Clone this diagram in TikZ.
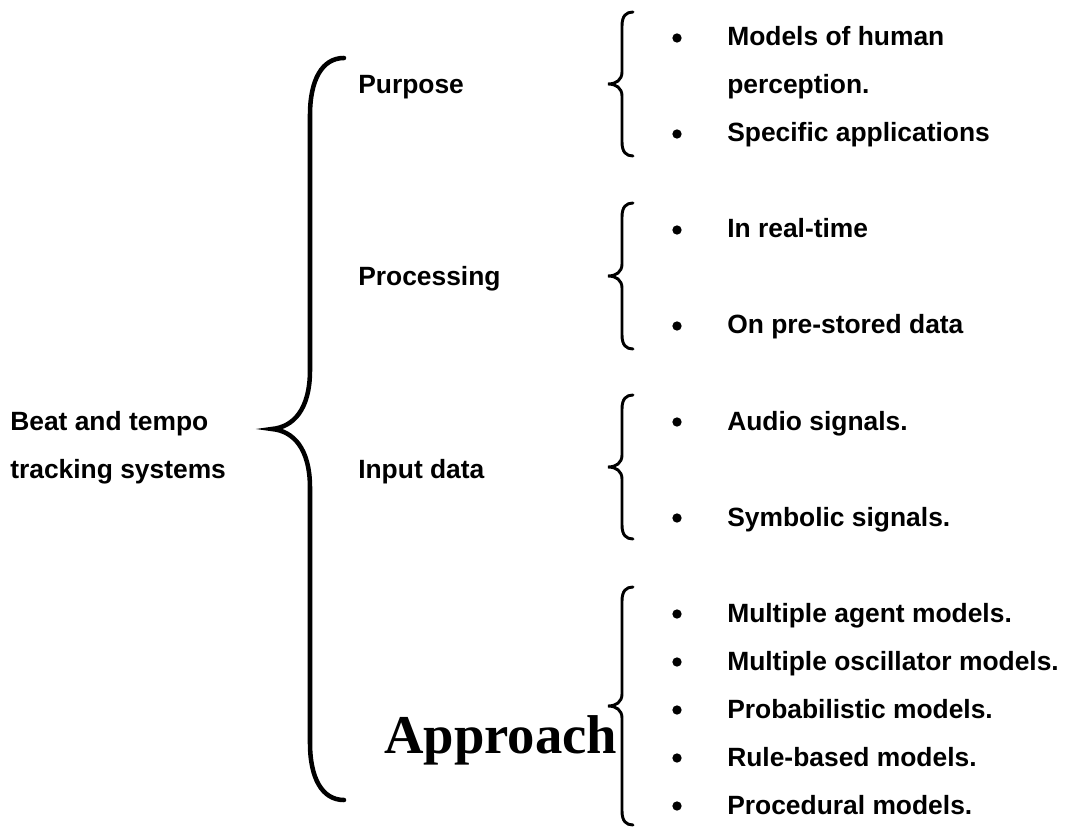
\documentclass[tikz,border=0pt]{standalone}
\usepackage{fontspec}
\setmainfont{Liberation Sans}
\newfontfamily\approachfont{Liberation Serif}
\usetikzlibrary{positioning}

% small brace: top y, bottom y (tip halfway)
\newcommand{\sidebrace}[2]{%
  \pgfmathsetmacro\tipy{(#1+#2)/2}
  \draw[line width=2.2pt, line cap=round]
    (633,#1) .. controls (626,#1) and (622,#1+4) .. (622,#1+14)
    -- (622,\tipy-12) .. controls (622,\tipy-4) and (616,\tipy) .. (608,\tipy)
    .. controls (616,\tipy) and (622,\tipy+4) .. (622,\tipy+12)
    -- (622,#2-14) .. controls (622,#2-4) and (626,#2) .. (633,#2);
}

\tikzset{
  label/.style={anchor=base west, inner sep=0pt, font=\fontsize{19.8}{24}\selectfont\bfseries},
  dot/.style={circle, fill, inner sep=0pt, minimum size=7pt}
}

\begin{document}
\begin{tikzpicture}[x=0.75pt, y=-0.75pt]
    \useasboundingbox (0,0) rectangle (1067,827);
    \def\tx{727}
    \def\bx{677}

    % left labels
    \node(beat) [label] at (10,430) {Beat and tempo};
    \node(track) [label] at (10,478) {tracking systems};

    % big brace
    \draw[line width=3.4pt, line cap=round]
    (344,58) .. controls (322,58) and (310,80) .. (310,115) -- (310,370)
    .. controls (310,410) and (293,427) .. (272,429)
    .. controls (293,431) and (310,448) .. (310,488) -- (310,743)
    .. controls (310,778) and (322,800) .. (344,800);

    % middle labels
    \node(purpose) [label] at (358,94) {Purpose};
    \node(processing) [label] at (358,286) {Processing};
    \node(input) [label] at (358,478) {Input data};
    \node(approach) [anchor=base west, inner sep=0pt, font=\fontsize{41}{48}\selectfont\approachfont\bfseries] at (384,753) {Approach};

    % small braces
    \sidebrace{12}{156}
    \sidebrace{203}{349}
    \sidebrace{395}{539}
    \sidebrace{587}{825}

    % purpose
    \node(b1) [dot] at (\bx,38) {};
    \node(t1) [label] at (\tx,46) {Models of human};
    \node(t1b) [label] at (\tx,94) {perception.};
    \node(b2) [dot] at (\bx,134) {};
    \node(t2) [label] at (\tx,142) {Specific applications};

    % processing
    \node(b3) [dot] at (\bx,230) {};
    \node(t3) [label] at (\tx,238) {In real-time};
    \node(b4) [dot] at (\bx,326) {};
    \node(t4) [label] at (\tx,334) {On pre-stored data};

    % input data
    \node(b5) [dot] at (\bx,422) {};
    \node(t5) [label] at (\tx,430) {Audio signals.};
    \node(b6) [dot] at (\bx,518) {};
    \node(t6) [label] at (\tx,526) {Symbolic signals.};

    % approach
    \foreach \txt [count=\i] in {Multiple agent models., Multiple oscillator models., Probabilistic models., Rule-based models., Procedural models.} {
        \node(ab\i) [dot] at (\bx,566+48*\i) {};
        \node(at\i) [label] at (\tx,574+48*\i) {\txt};
    }
\end{tikzpicture}
\end{document}
